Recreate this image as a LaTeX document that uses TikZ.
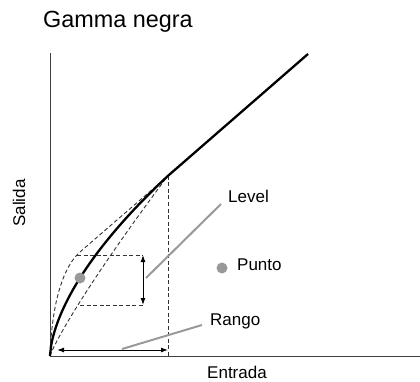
\documentclass[tikz,border=0pt]{standalone}
\usepackage{fontspec}
\setmainfont{Liberation Sans}
\usetikzlibrary{arrows.meta}
\begin{document}
\begin{tikzpicture}[x=1pt,y=-1pt,
  axis/.style={draw=black!75, line width=0.9pt},
  dsh/.style={draw=black!80, line width=0.9pt, dash pattern=on 4pt off 2.5pt},
  leader/.style={draw=black!40, line width=2pt},
  dot/.style={circle, fill=black!40, minimum size=11pt, inner sep=0pt},
  lbl/.style={font=\fontsize{17}{20}\selectfont, inner sep=0pt, anchor=base west},
  dbl/.style={draw=black, line width=1pt, {Latex[length=7pt,width=5pt]}-{Latex[length=7pt,width=5pt]}}
]
\useasboundingbox (0,0) rectangle (420,382);
% key points
\coordinate (O) at (50,356);
\coordinate (ytop) at (50,53);
\coordinate (xend) at (420,356);
\coordinate (knee) at (168,176);
\coordinate (kneebase) at (168,356);
\coordinate (top) at (308,54);
% title and axis labels
\node[font=\fontsize{23.4}{27}\selectfont, inner sep=0pt, anchor=base west] (title) at (43,28) {Gamma negra};
\node[lbl, anchor=base] (entrada) at (237,378) {Entrada};
\node[lbl, anchor=base, rotate=90] (salida) at (25,203) {Salida};
% axes
\draw[axis] (ytop) -- (O) -- (xend);
% dashed curves
\coordinate (ubend) at (80,252);
\draw[dsh] (O) .. controls (52,300) and (64,266) .. (ubend) .. controls (110,226) and (140,200) .. (knee);
\draw[dsh] (O) -- plot[domain=0.01:118, samples=80] ({50+\x},{356-2.75*(\x)^0.877});
% vertical dashed line
\draw[dsh] (knee) -- (kneebase);
% box
\coordinate (bxtl) at (77,255);
\coordinate (bxtr) at (143,255);
\coordinate (bxbl) at (80,305);
\coordinate (bxbr) at (143,305);
\draw[dsh] (bxtl) -- (bxtr);
\draw[dsh] (bxbl) -- (bxbr);
% main curve
\draw[black, line width=2.3pt, line join=round] (O) -- plot[domain=0.01:118, samples=100] ({50+\x},{356-9.77*(\x)^0.611}) -- (top);
% arrows
\draw[dbl] (bxtr) -- (bxbr);
\coordinate (rl) at (57,350);
\coordinate (rr) at (168,350);
\draw[dbl] (rl) -- (rr);
% dots
\node[dot] (pt) at (80,278) {};
\node[dot] (puntodot) at (222,268) {};
% labels
\node[lbl] (level) at (228,202) {Level};
\node[lbl] (punto) at (237,270) {Punto};
\node[lbl] (rango) at (210,325) {Rango};
% leaders
\coordinate (lvA) at (146,278);
\coordinate (lvB) at (221,204);
\draw[leader] (lvA) -- (lvB);
\coordinate (rgA) at (122,349);
\coordinate (rgB) at (202,325);
\draw[leader] (rgA) -- (rgB);
\end{tikzpicture}
\end{document}
